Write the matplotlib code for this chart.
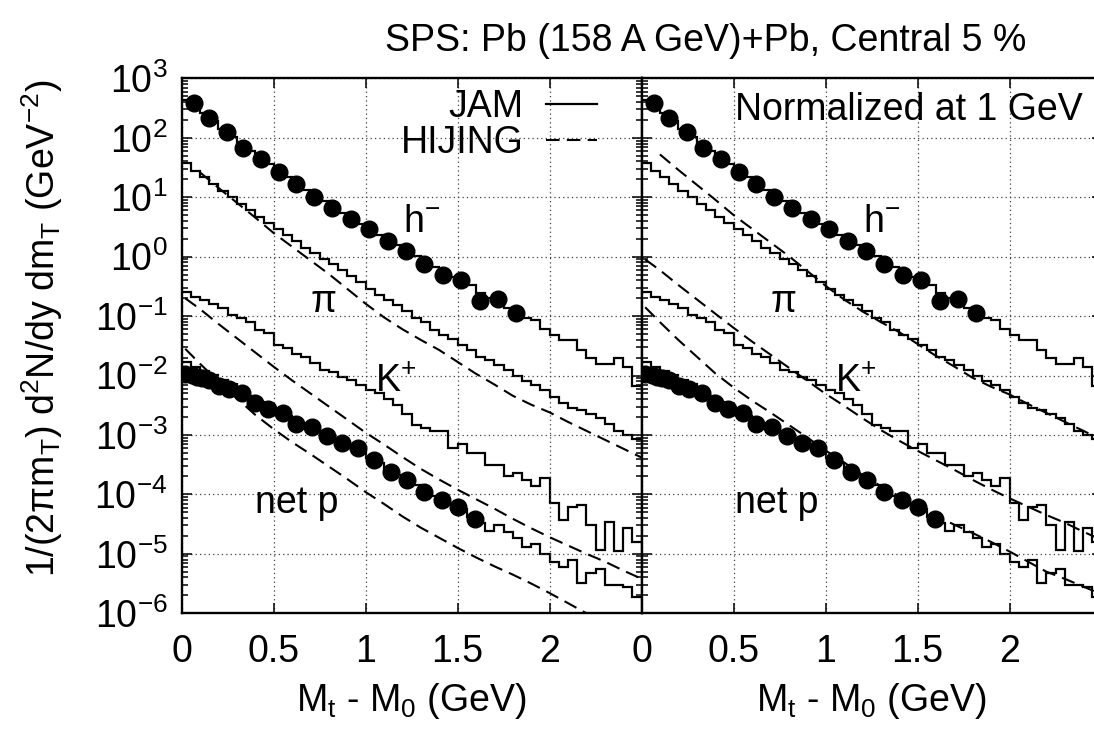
import numpy as np
import matplotlib
matplotlib.use("Agg")
import matplotlib.pyplot as plt
from matplotlib.ticker import LogLocator, FixedLocator, FixedFormatter, NullFormatter
from matplotlib.lines import Line2D

plt.rcParams['font.family'] = ['Liberation Sans', 'DejaVu Sans']
plt.rcParams['mathtext.fontset'] = 'custom'
plt.rcParams['mathtext.rm'] = 'Liberation Sans'
plt.rcParams['mathtext.it'] = 'Liberation Sans:italic'
plt.rcParams['mathtext.default'] = 'regular'

# ---------------- data (log10 of 1/(2 pi mT) d2N/dy dmT) ----------------
bin_edges = np.round(np.arange(51) * 0.05, 2)   # 0.05 GeV bins, 0 .. 2.5 GeV

hminus_jam_log = [2.63, 2.56, 2.42, 2.28, 2.15, 2.02, 1.88, 1.77, 1.67, 1.56,
                  1.44, 1.34, 1.24, 1.13, 1.02, 0.93, 0.83, 0.74, 0.64, 0.55,
                  0.46, 0.37, 0.27, 0.19, 0.10, 0.01, -0.09, -0.17, -0.27, -0.35,
                  -0.43, -0.48, -0.61, -0.70, -0.79, -0.87, -0.98, -1.03, -1.07, -1.22,
                  -1.32, -1.40, -1.40, -1.57, -1.70, -1.81, -1.81, -1.70, -1.85, -2.18]

pion_jam_log = [1.57, 1.45, 1.34, 1.22, 1.11, 1.00, 0.89, 0.78, 0.67, 0.57,
                0.47, 0.36, 0.26, 0.15, 0.06, -0.04, -0.13, -0.23, -0.32, -0.42,
                -0.55, -0.64, -0.73, -0.82, -0.92, -1.04, -1.10, -1.24, -1.32, -1.38,
                -1.49, -1.57, -1.69, -1.74, -1.83, -1.91, -2.01, -2.09, -2.16, -2.25,
                -2.36, -2.46, -2.54, -2.58, -2.65, -2.72, -2.81, -2.93, -3.00, -3.07]

kaon_jam_log = [-0.59, -0.68, -0.73, -0.80, -0.87, -0.98, -1.04, -1.10, -1.24, -1.29,
                -1.49, -1.54, -1.63, -1.69, -1.79, -1.90, -1.94, -2.02, -2.08, -2.16,
                -2.25, -2.30, -2.39, -2.50, -2.64, -2.84, -2.89, -2.94, -2.94, -3.22,
                -3.16, -3.31, -3.31, -3.51, -3.51, -3.69, -3.64, -3.76, -3.86, -3.73,
                -4.15, -4.43, -4.21, -4.18, -4.52, -4.94, -4.46, -4.96, -4.56, -4.80]

netp_jam_log = [-1.78, -1.85, -1.92, -1.99, -2.07, -2.15, -2.24, -2.34, -2.44, -2.52,
                -2.60, -2.68, -2.76, -2.84, -2.92, -3.00, -3.08, -3.14, -3.20, -3.29,
                -3.38, -3.48, -3.58, -3.67, -3.75, -3.84, -3.94, -4.02, -4.10, -4.17,
                -4.25, -4.38, -4.49, -4.62, -4.52, -4.63, -4.74, -4.88, -4.83, -5.00,
                -5.14, -5.22, -5.11, -5.50, -5.33, -5.25, -5.53, -5.53, -5.56, -5.73]

# HIJING curves (unnormalized, left panel)
pion_hij_x = [0.1, 0.2, 0.3, 0.4, 0.5, 0.6, 0.7, 0.8, 0.9, 1.0, 1.1, 1.2, 1.3,
              1.4, 1.5, 1.6, 1.7, 1.8, 1.9, 2.0, 2.1, 2.2, 2.3, 2.4, 2.5]
pion_hij_log = [1.42, 1.16, 0.91, 0.66, 0.40, 0.17, -0.06, -0.29, -0.54, -0.79,
                -1.02, -1.22, -1.40, -1.57, -1.77, -1.97, -2.15, -2.34, -2.49, -2.62,
                -2.78, -2.93, -3.08, -3.23, -3.38]

kaon_hij_x = [0.02, 0.1, 0.2, 0.3, 0.4, 0.5, 0.6, 0.7, 0.8, 0.9, 1.0, 1.1, 1.2, 1.3,
              1.4, 1.5, 1.6, 1.7, 1.8, 1.9, 2.0, 2.1, 2.2, 2.3, 2.4, 2.5]
kaon_hij_log = [-0.70, -0.88, -1.13, -1.37, -1.61, -1.85, -2.08, -2.30, -2.52, -2.74,
                -2.96, -3.16, -3.37, -3.57, -3.75, -3.92, -4.08, -4.24, -4.41, -4.57,
                -4.72, -4.86, -5.00, -5.13, -5.28, -5.42]

netp_hij_x = [0.02, 0.1, 0.2, 0.3, 0.4, 0.5, 0.6, 0.7, 0.8, 0.9, 1.0, 1.1, 1.2, 1.3,
              1.4, 1.5, 1.6, 1.7, 1.8, 1.9, 2.0, 2.1, 2.2, 2.3, 2.4, 2.5]
netp_hij_log = [-1.55, -1.80, -2.10, -2.38, -2.66, -2.90, -3.12, -3.32, -3.53, -3.74,
                -3.96, -4.16, -4.37, -4.56, -4.73, -4.90, -5.06, -5.21, -5.35, -5.50,
                -5.66, -5.83, -6.00, -6.12, -6.25, -6.38]

# normalization factors (right panel, normalized at 1 GeV)
norm_pion, norm_kaon, norm_netp = 2.0, 4.5, 5.0

# NA49 data points
hminus_data_x = [0.07, 0.15, 0.245, 0.335, 0.43, 0.53, 0.62, 0.72, 0.82, 0.92,
                 1.02, 1.12, 1.22, 1.32, 1.42, 1.52, 1.62, 1.72, 1.82]
hminus_data_log = [2.59, 2.33, 2.09, 1.83, 1.64, 1.42, 1.23, 1.00, 0.82, 0.63,
                   0.465, 0.26, 0.10, -0.13, -0.31, -0.39, -0.74, -0.71, -0.94]

netp_data_x = [0.02, 0.055, 0.083, 0.11, 0.15, 0.205, 0.26, 0.327, 0.40, 0.472,
               0.55, 0.622, 0.707, 0.789, 0.87, 0.961, 1.046, 1.137, 1.227, 1.318,
               1.414, 1.504, 1.595]
netp_data_log = [-1.98, -1.99, -2.02, -2.05, -2.08, -2.17, -2.23, -2.30, -2.47, -2.57,
                 -2.63, -2.82, -2.86, -3.02, -3.14, -3.22, -3.42, -3.63, -3.76, -3.96,
                 -4.10, -4.22, -4.41]

xtick_vals = [0, 0.5, 1, 1.5, 2, 2.5]
xtick_labels = ['0', '0.5', '1', '1.5', '2', '']

# ---------------- figure ----------------
FS = 27
W, H = 1094, 729
fig = plt.figure(figsize=(W / 100, H / 100), dpi=100)
x0, x1, y0, y1 = 181.5, 641.5, 78.4, 613.2
pw = x1 - x0
axL = fig.add_axes([x0 / W, 1 - y1 / H, pw / W, (y1 - y0) / H])
axR = fig.add_axes([x1 / W, 1 - y1 / H, pw / W, (y1 - y0) / H])

DASH = (0, (6.5, 3.5))
HLW = 1.6
DLW = 1.5
p = lambda a: 10.0 ** np.asarray(a)

for ax, normed in ((axL, False), (axR, True)):
    ax.set_yscale('log')
    ax.set_xlim(0, 2.5)
    ax.set_ylim(1e-6, 1e3)
    for arr in (hminus_jam_log, pion_jam_log, kaon_jam_log, netp_jam_log):
        ax.stairs(p(arr), bin_edges, baseline=None, color='black', lw=HLW)
    fp, fk, fn = (norm_pion, norm_kaon, norm_netp) if normed else (1, 1, 1)
    ax.plot(pion_hij_x, p(pion_hij_log) * fp, color='black', lw=DLW, ls=DASH)
    ax.plot(kaon_hij_x, p(kaon_hij_log) * fk, color='black', lw=DLW, ls=DASH)
    ax.plot(netp_hij_x, p(netp_hij_log) * fn, color='black', lw=DLW, ls=DASH)
    ax.plot(hminus_data_x, p(hminus_data_log), 'o', color='black', ms=12)
    ax.plot(netp_data_x, p(netp_data_log), 'o', color='black', ms=12)

    ax.xaxis.set_major_locator(FixedLocator(xtick_vals))
    ax.xaxis.set_major_formatter(FixedFormatter(xtick_labels))
    ax.yaxis.set_major_locator(LogLocator(base=10, numticks=20))
    ax.yaxis.set_minor_locator(LogLocator(base=10, subs=np.arange(2, 10), numticks=20))
    ax.yaxis.set_minor_formatter(NullFormatter())
    ax.tick_params(which='both', direction='in', top=True, right=True, labelsize=FS)
    ax.tick_params(which='major', length=7, width=1.1)
    ax.tick_params(which='minor', length=4, width=1.1)
    ax.tick_params(axis='x', pad=15)
    ax.tick_params(axis='y', pad=10)
    ax.grid(True, which='major', ls=(0, (1, 2.5)), color='0.25', lw=0.9)
    for s in ax.spines.values():
        s.set_linewidth(1.7)
    ax.set_xlabel('M$_t$ - M$_0$ (GeV)', fontsize=FS, labelpad=8)

axR.tick_params(labelleft=False)

# annotations
for ax, xnp in ((axL, 0.40), (axR, 0.508)):
    ax.text(1.204, p(0.414), 'h$^{-}$', fontsize=FS)
    ax.text(0.70, p(-0.93), 'π', fontsize=FS)
    ax.text(1.05, p(-2.28), 'K$^{+}$', fontsize=FS)
    ax.text(xnp, p(-4.32), 'net p', fontsize=FS)
axR.text(0.508, p(2.30), 'Normalized at 1 GeV', fontsize=FS)

handles = [Line2D([], [], color='black', lw=HLW),
           Line2D([], [], color='black', lw=DLW, ls=DASH)]
axL.legend(handles, ['JAM', 'HIJING'], loc='upper right',
           bbox_to_anchor=((597 - x0) / pw, (y1 - 89) / (y1 - y0)),
           markerfirst=False, frameon=False, fontsize=FS, handlelength=1.35,
           handletextpad=0.6, labelspacing=0.0, borderpad=0, borderaxespad=0)

fig.text(706 / W, 1 - 41 / H, 'SPS: Pb (158 A GeV)+Pb, Central 5 %',
         ha='center', va='center', fontsize=FS)
fig.text(42 / W, 1 - 328 / H,
         '1/(2πm$_T$) d$^2$N/dy dm$_T$ (GeV$^{-2}$)',
         ha='center', va='center', rotation=90, fontsize=FS)

fig.savefig('out.png', dpi=100)
